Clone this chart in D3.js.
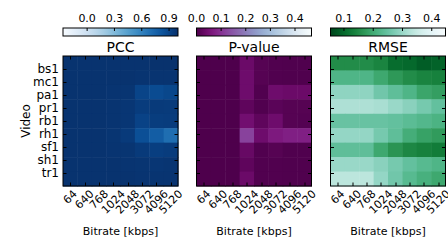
<!DOCTYPE html>
<html>
<head>
<meta charset="utf-8">
<script src="https://cdn.jsdelivr.net/npm/d3@7"></script>
<style>
  body { margin: 0; background: #fff; }
  svg text { font-family: "DejaVu Sans", sans-serif; fill: #000; }
</style>
</head>
<body>
<svg id="chart" width="448" height="243"></svg>
<script>
// rows = videos, columns = bitrates
const videos = ["bs1", "mc1", "pa1", "pr1", "rb1", "rh1", "sf1", "sh1", "tr1"];
const bitrates = ["64", "640", "768", "1024", "2048", "3072", "4096", "5120"];

const pcc = [
  [0.985, 0.985, 0.985, 0.985, 0.985, 0.985, 0.99, 0.99],
  [0.985, 0.985, 0.985, 0.985, 0.985, 0.98, 0.98, 0.98],
  [0.985, 0.985, 0.985, 0.98, 0.975, 0.9, 0.87, 0.89],
  [0.985, 0.985, 0.985, 0.98, 0.97, 0.94, 0.95, 0.945],
  [0.985, 0.985, 0.985, 0.98, 0.97, 0.91, 0.935, 0.94],
  [0.985, 0.985, 0.985, 0.975, 0.95, 0.85, 0.78, 0.7],
  [0.985, 0.985, 0.985, 0.98, 0.975, 0.95, 0.93, 0.94],
  [0.985, 0.985, 0.985, 0.985, 0.98, 0.975, 0.97, 0.975],
  [0.985, 0.985, 0.985, 0.985, 0.985, 0.98, 0.98, 0.98]
];
const pvalue = [
  [0.001, 0.001, 0.001, 0.035, 0.01, 0.005, 0.003, 0.003],
  [0.001, 0.001, 0.001, 0.04, 0.01, 0.005, 0.003, 0.003],
  [0.001, 0.001, 0.001, 0.04, 0.005, 0.04, 0.035, 0.035],
  [0.001, 0.001, 0.001, 0.02, 0.005, 0.015, 0.01, 0.01],
  [0.001, 0.001, 0.001, 0.045, 0.02, 0.04, 0.01, 0.008],
  [0.001, 0.001, 0.001, 0.12, 0.04, 0.065, 0.075, 0.075],
  [0.001, 0.001, 0.001, 0.03, 0.005, 0.01, 0.003, 0.003],
  [0.001, 0.001, 0.001, 0.02, 0.005, 0.005, 0.003, 0.003],
  [0.001, 0.001, 0.001, 0.035, 0.005, 0.005, 0.003, 0.003]
];
const rmse = [
  [0.152, 0.152, 0.152, 0.14, 0.105, 0.1, 0.085, 0.092],
  [0.22, 0.22, 0.22, 0.195, 0.17, 0.152, 0.14, 0.135],
  [0.29, 0.29, 0.29, 0.26, 0.24, 0.22, 0.19, 0.18],
  [0.32, 0.32, 0.32, 0.315, 0.3, 0.285, 0.265, 0.245],
  [0.25, 0.25, 0.25, 0.25, 0.245, 0.235, 0.225, 0.215],
  [0.295, 0.295, 0.295, 0.265, 0.24, 0.205, 0.185, 0.175],
  [0.24, 0.24, 0.24, 0.195, 0.165, 0.145, 0.135, 0.128],
  [0.3, 0.3, 0.3, 0.285, 0.265, 0.245, 0.23, 0.22],
  [0.335, 0.335, 0.335, 0.295, 0.26, 0.23, 0.21, 0.195]
];

// colour bar limits and ticks
const pccRange = [-0.265, 0.998], pccTicks = [0.0, 0.3, 0.6, 0.9];
const pvalueRange = [0, 0.467], pvalueTicks = [0.0, 0.1, 0.2, 0.3, 0.4];
const rmseRange = [0.054, 0.447], rmseTicks = [0.1, 0.2, 0.3, 0.4];

const panels = [
  { name: "PCC", data: pcc, range: pccRange, ticks: pccTicks, interp: d3.interpolateBlues, x: 63 },
  { name: "P-value", data: pvalue, range: pvalueRange, ticks: pvalueTicks, interp: t => d3.interpolateBuPu(1 - t), x: 196.5 },
  { name: "RMSE", data: rmse, range: rmseRange, ticks: rmseTicks, interp: t => d3.interpolateBuGn(1 - t), x: 330.5 }
];

const W = 115, H = 130, plotTop = 56,
  cbTop = 28, cbH = 8, tickLen = 3.5;

const svg = d3.select("#chart");

/* cells fill the band scale, tick labels sit on a point scale
 * (matches the labels' placement in the original figure) */
const xBand = d3.scaleBand().domain(bitrates).range([0, W]);
const yBand = d3.scaleBand().domain(d3.range(videos.length)).range([0, H]);
const yTick = d3.scalePoint().domain(videos).range([0, H]).padding(1);

panels.forEach(function(p, pi) {
  let color = d3.scaleSequential(p.interp).domain(p.range).clamp(true);
  let g = svg.append("g").attr("transform", "translate(" + p.x + "," + plotTop + ")");

  // heat cells
  p.data.forEach(function(row, ri) {
    g.selectAll("rect.r" + ri)
      .data(row)
      .enter().append("rect")
      .attr("x", (d, ci) => xBand(bitrates[ci]))
      .attr("y", yBand(ri))
      .attr("width", xBand.bandwidth() + 0.5)
      .attr("height", yBand.bandwidth() + 0.5)
      .attr("fill", d => color(d));
  });

  // inward ticks on all four sides
  let ticks = g.append("g").attr("stroke", "#000").attr("stroke-width", 1);
  bitrates.forEach(function(b) {
    let x = Math.round(xBand(b) + xBand.bandwidth() / 2) + 0.5;
    ticks.append("line").attr("x1", x).attr("x2", x).attr("y1", 0).attr("y2", tickLen);
    ticks.append("line").attr("x1", x).attr("x2", x).attr("y1", H).attr("y2", H - tickLen);
  });
  videos.forEach(function(v) {
    let y = Math.round(yTick(v)) + 0.5;
    ticks.append("line").attr("x1", 0).attr("x2", tickLen).attr("y1", y).attr("y2", y);
    ticks.append("line").attr("x1", W).attr("x2", W - tickLen).attr("y1", y).attr("y2", y);
  });

  g.append("rect")
    .attr("width", W).attr("height", H)
    .attr("fill", "none").attr("stroke", "#000").attr("stroke-width", 1);

  // rotated bitrate labels, centred under each column
  let xl = g.append("g").attr("font-size", 11);
  bitrates.forEach(function(b) {
    let t = xl.append("text")
      .attr("text-anchor", "middle")
      .attr("dominant-baseline", "central")
      .text(b);
    let w = t.node().getComputedTextLength(),
      ext = (w + 9) / Math.SQRT2;
    t.attr("transform", "translate(" + (xBand(b) + xBand.bandwidth() / 2) + "," + (H + 3 + ext / 2) + ") rotate(-45)");
  });

  g.append("text")
    .attr("x", W / 2).attr("y", 179)
    .attr("text-anchor", "middle").attr("font-size", 11)
    .text("Bitrate [kbps]");

  g.append("text")
    .attr("x", W / 2).attr("y", -4.5)
    .attr("text-anchor", "middle").attr("font-size", 14)
    .text(p.name);

  // colour bar above the panel
  let cx = d3.scaleLinear().domain(p.range).range([0, W]);
  let gradId = "grad" + pi;
  let grad = svg.append("defs").append("linearGradient").attr("id", gradId);
  d3.range(0, 1.0001, 0.05).forEach(function(t) {
    grad.append("stop").attr("offset", t).attr("stop-color", p.interp(t));
  });
  let cb = svg.append("g").attr("transform", "translate(" + p.x + "," + cbTop + ")");
  cb.append("rect").attr("width", W).attr("height", cbH).attr("fill", "url(#" + gradId + ")")
    .attr("stroke", "#000").attr("stroke-width", 1);
  p.ticks.forEach(function(v) {
    let x = cx(v);
    if (x > 1 && x < W - 1)
      cb.append("line").attr("x1", x).attr("x2", x).attr("y1", 0).attr("y2", 3)
        .attr("stroke", "#000");
    cb.append("text")
      .attr("x", x).attr("y", -6)
      .attr("text-anchor", "middle").attr("font-size", 11)
      .text(v.toFixed(1));
  });
});

// video labels on the first panel only
let yl = svg.append("g").attr("transform", "translate(" + panels[0].x + "," + plotTop + ")").attr("font-size", 12);
videos.forEach(function(v) {
  yl.append("text")
    .attr("x", -4).attr("y", yTick(v))
    .attr("text-anchor", "end").attr("dominant-baseline", "central")
    .text(v);
});
svg.append("text")
  .attr("transform", "translate(26," + (plotTop + H / 2) + ") rotate(-90)")
  .attr("text-anchor", "middle").attr("dominant-baseline", "central")
  .attr("font-size", 12)
  .text("Video");
</script>
</body>
</html>
